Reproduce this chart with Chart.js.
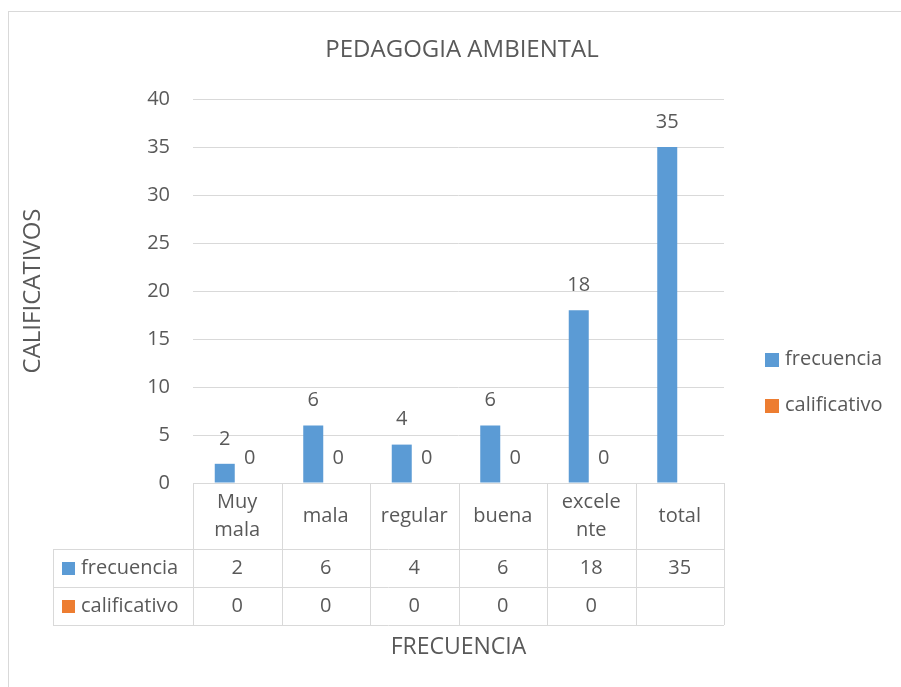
<!DOCTYPE html>
<html>
<head>
<meta charset="utf-8">
<script src="https://cdn.jsdelivr.net/npm/chart.js@4.4.0/dist/chart.umd.min.js"></script>
<style>
  html, body { margin: 0; padding: 0; background: #ffffff; }
  #grafico { display: block; }
</style>
</head>
<body>
<canvas id="grafico" width="901" height="687"></canvas>
<script>
// datos
const categorias = [['Muy', 'mala'], ['mala'], ['regular'], ['buena'], ['excele', 'nte'], ['total']];
const frecuencia = [2, 6, 4, 6, 18, 35];
const calificativo = [0, 0, 0, 0, 0, null];
const ticksY = [0, 5, 10, 15, 20, 25, 30, 35, 40];

const titulo = 'PEDAGOGIA AMBIENTAL';
const tituloY = 'CALIFICATIVOS';
const tituloX = 'FRECUENCIA';

const colorTexto = '#595959';
const colorLinea = '#d9d9d9';
const fuente = '"Open Sans", Lato, sans-serif';

// dibuja titulo, marco, leyenda, etiquetas y la tabla de datos
const extras = {
    id: 'extras',
    beforeDraw(chart) {
        const ctx = chart.ctx;
        ctx.save();
        ctx.strokeStyle = colorLinea;
        ctx.lineWidth = 1;
        ctx.strokeRect(8.5, 11.5, 1000, 1000);
        ctx.restore();
    },
    afterDraw(chart) {
        const ctx = chart.ctx;
        const area = chart.chartArea;
        const x = chart.scales.x;
        const sets = chart.data.datasets;
        ctx.save();

        // titulos
        ctx.fillStyle = colorTexto;
        ctx.font = '24px ' + fuente;
        ctx.textAlign = 'center';
        ctx.textBaseline = 'middle';
        ctx.fillText(titulo, 462, 50);

        ctx.save();
        ctx.translate(33, 291);
        ctx.rotate(-Math.PI / 2);
        ctx.fillText(tituloY, 0, 0);
        ctx.restore();

        ctx.font = '23px ' + fuente;
        ctx.fillText(tituloX, x.getPixelForValue((categorias.length - 1) / 2), 647);

        // etiquetas de datos
        ctx.font = '20px ' + fuente;
        sets.forEach((ds, i) => {
            const meta = chart.getDatasetMeta(i);
            meta.data.forEach((bar, j) => {
                const v = ds.data[j];
                if (v === null || v === undefined) return;
                ctx.fillText(String(v), bar.x, bar.y - 25);
            });
        });

        // tabla de datos
        const n = categorias.length;
        const ancho = (area.right - area.left) / n;
        const filas = [area.bottom, 549, 587, 625];
        const izq = 53;
        ctx.strokeStyle = colorLinea;
        ctx.lineWidth = 1;
        ctx.beginPath();
        for (let r = 1; r < filas.length; r++) {
            const y = Math.round(filas[r]) + 0.5;
            ctx.moveTo(izq, y);
            ctx.lineTo(area.right, y);
        }
        ctx.moveTo(area.left, area.bottom + 0.5);
        ctx.lineTo(area.right, area.bottom + 0.5);
        for (let c = 0; c <= n; c++) {
            const xx = Math.round(area.left + c * ancho) + 0.5;
            ctx.moveTo(xx, filas[0]);
            ctx.lineTo(xx, filas[3]);
        }
        ctx.moveTo(izq + 0.5, filas[1]);
        ctx.lineTo(izq + 0.5, filas[3]);
        ctx.stroke();

        ctx.fillStyle = colorTexto;
        categorias.forEach((cat, j) => {
            const cx = x.getPixelForValue(j);
            const cy = (filas[0] + filas[1]) / 2;
            const alto = 28;
            cat.forEach((linea, k) => {
                ctx.fillText(linea, cx, cy + (k - (cat.length - 1) / 2) * alto);
            });
            sets.forEach((ds, i) => {
                const v = ds.data[j];
                if (v === null || v === undefined) return;
                ctx.fillText(String(v), cx, (filas[i + 1] + filas[i + 2]) / 2);
            });
        });

        // claves de la tabla
        ctx.textAlign = 'left';
        sets.forEach((ds, i) => {
            const cy = (filas[i + 1] + filas[i + 2]) / 2;
            ctx.fillStyle = ds.backgroundColor;
            ctx.fillRect(62, cy - 6, 13, 13);
            ctx.fillStyle = colorTexto;
            ctx.fillText(ds.label, 81, cy);
        });

        // leyenda derecha
        sets.forEach((ds, i) => {
            const cy = 359 + i * 46;
            ctx.fillStyle = ds.backgroundColor;
            ctx.fillRect(765, cy - 6, 14, 14);
            ctx.fillStyle = colorTexto;
            ctx.fillText(ds.label, 785, cy);
        });

        ctx.restore();
    }
};

const ctx = document.getElementById('grafico').getContext('2d');
new Chart(ctx, {
    type: 'bar',
    data: {
        labels: categorias.map(c => c.join(' ')),
        datasets: [
            { label: 'frecuencia', data: frecuencia, backgroundColor: '#5b9bd5' },
            { label: 'calificativo', data: calificativo, backgroundColor: '#ed7d31' }
        ]
    },
    options: {
        responsive: false,
        animation: false,
        devicePixelRatio: 1,
        categoryPercentage: 0.565,
        barPercentage: 0.8,
        layout: { padding: { left: 0, top: 99, right: 177, bottom: 204 } },
        plugins: {
            legend: { display: false },
            title: { display: false },
            tooltip: { enabled: false }
        },
        scales: {
            x: {
                ticks: { display: false },
                grid: { display: false },
                border: { display: false },
                afterFit(s) { s.height = 0; }
            },
            y: {
                min: 0,
                max: 40,
                afterBuildTicks(s) { s.ticks = ticksY.map(v => ({ value: v })); },
                afterFit(s) { s.width = 193; },
                ticks: {
                    color: colorTexto,
                    font: { family: fuente, size: 20 },
                    padding: 23
                },
                grid: { color: colorLinea, lineWidth: 1, drawTicks: false },
                border: { display: false }
            }
        }
    },
    plugins: [extras]
});
</script>
</body>
</html>
